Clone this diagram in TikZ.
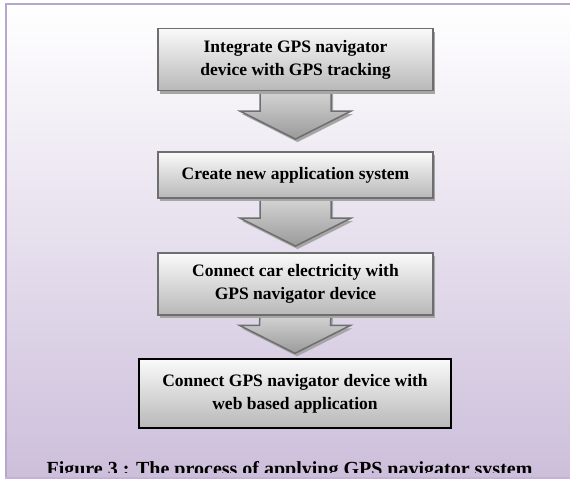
\documentclass[tikz,border=0pt]{standalone}
\usepackage{fontspec}
\setmainfont{Liberation Serif}
\usetikzlibrary{calc,shadows}
\definecolor{frameline}{HTML}{B8A6CF}
\definecolor{framebot}{HTML}{CDBFDB}
\definecolor{boxline}{HTML}{6E6E6E}
\definecolor{boxtop}{HTML}{FAFAFA}
\definecolor{boxbot}{HTML}{B8B8B8}
\definecolor{arrtop}{HTML}{D6D6D6}
\definecolor{arrbot}{HTML}{9A9A9A}
\definecolor{shadowgray}{HTML}{A6A6A6}
\pgfdeclarelayer{bglayer}
\pgfdeclarelayer{arrlayer}
\pgfsetlayers{bglayer,arrlayer,main}
\tikzset{
  stepbox/.style={rectangle, draw=boxline, line width=1.8pt, top color=boxtop, bottom color=boxbot,
    align=center, font=\fontsize{17.5}{23}\selectfont\bfseries, inner sep=0pt,
    drop shadow={shadow xshift=2pt, shadow yshift=-3pt, fill=shadowgray, opacity=1}},
  finalbox/.style={rectangle, draw=black, line width=1.3pt, top color=boxtop, bottom color=boxbot,
    align=center, font=\fontsize{17.5}{23}\selectfont\bfseries, inner sep=0pt},
  blockarrow/.style={draw=boxline, line width=1.5pt, top color=arrtop, bottom color=arrbot,
    line join=miter, drop shadow={shadow xshift=2pt, shadow yshift=-3pt, fill=shadowgray, opacity=1}},
  captionstyle/.style={font=\fontsize{20}{24}\selectfont\bfseries, inner sep=0pt, anchor=base}
}
\newcommand\blockarr[3]{% source, target, gap above target
  \coordinate (tip#1) at ($(#2.north)+(0,-#3)$);
  \path[blockarrow] ($(#1.south)+(-35.5,-2)$) -- ($(tip#1)+(-35.5,-28)$) -- ($(tip#1)+(-55.5,-28)$)
    -- (tip#1) -- ($(tip#1)+(55.5,-28)$) -- ($(tip#1)+(35.5,-28)$) -- ($(#1.south)+(35.5,-2)$) -- cycle;
}
\begin{document}
\begin{tikzpicture}[x=1pt,y=-1pt]
\useasboundingbox (0,0) rectangle (570,480);
\begin{pgfonlayer}{bglayer}
\fill[white] (0,0) rectangle (570,480);
\shade[top color=white, bottom color=framebot] (6,4) rectangle (575,477);
\draw[frameline, line width=2.5pt] (6,477.5) -- (6,4) -- (575,4);
\draw[frameline!85, line width=2.5pt] (5,477.8) -- (575,477.8);
\begin{scope}
\clip (7,5) rectangle (575,472.8);
\node[captionstyle] (cap) at (289.5,475.5) {Figure 3 : The process of applying GPS navigator system};
\end{scope}
\end{pgfonlayer}
\node[stepbox, minimum width=275pt, minimum height=62pt] (b1) at (295.5,59.5) {Integrate GPS navigator\\device with GPS tracking};
\node[stepbox, minimum width=275pt, minimum height=46pt] (b2) at (295.5,175) {Create new application system};
\node[stepbox, minimum width=275pt, minimum height=62pt] (b3) at (295.5,284) {Connect car electricity with\\GPS navigator device};
\node[finalbox, minimum width=312pt, minimum height=69pt] (b4) at (295,393.5) {Connect GPS navigator device with\\web based application};
\begin{pgfonlayer}{arrlayer}
\blockarr{b1}{b2}{12}
\blockarr{b2}{b3}{6}
\blockarr{b3}{b4}{5}
\end{pgfonlayer}
\end{tikzpicture}
\end{document}
